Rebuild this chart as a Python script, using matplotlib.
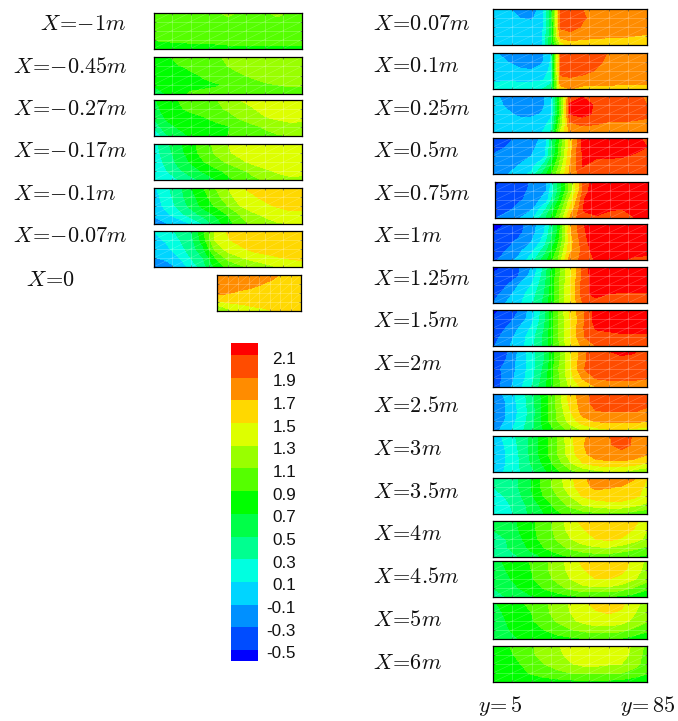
import numpy as np
import matplotlib
matplotlib.use("Agg")
import matplotlib.pyplot as plt
from matplotlib.colors import ListedColormap, BoundaryNorm

plt.rcParams['mathtext.fontset'] = 'cm'

W, H = 678, 721
levels = [-0.5, -0.3, -0.1, 0.1, 0.3, 0.5, 0.7, 0.9, 1.1, 1.3, 1.5, 1.7, 1.9, 2.1]
band_colors = ['#0000ff', '#004cff', '#0090ff', '#00d5ff', '#00ffe0', '#00ff90', '#00ff48', '#00ff00',
               '#55ff00', '#99ff00', '#ddff00', '#ffd800', '#ff8c00', '#ff4c00', '#ff0000']
tick_labels = ['2.1', '1.9', '1.7', '1.5', '1.3', '1.1', '0.9', '0.7', '0.5', '0.3', '0.1', '-0.1', '-0.3', '-0.5']

x_even = np.linspace(0, 1, 13)
x_fine = [0, .08, .17, .25, .32, .375, .4375, .5, .58, .67, .75, .875, 1]
y_rows = [1, .75, .5, .25, 0]

xm1 = [[1.0,1.02,1.03,1.04,1.05,1.07,1.15,1.08,1.06,1.08,1.15,1.08,1.05],
       [1.0,1.0,1.02,1.02,1.03,1.04,1.05,1.05,1.05,1.05,1.05,1.05,1.03],
       [1.0,1.0,1.0,1.0,1.0,1.0,1.0,1.0,1.0,1.0,1.0,1.0,1.0],
       [.92,.95,.96,.97,.98,.98,.98,.98,.98,.98,.98,.98,.98],
       [.75,.75,.78,.8,.82,.82,.85,.85,.85,.85,.85,.85,.85]]
xm045 = [[.85,.85,1.0,1.03,1.05,1.08,1.12,1.17,1.2,1.2,1.22,1.22,1.2],
         [.8,.82,.88,.95,1.02,1.06,1.1,1.15,1.2,1.22,1.22,1.22,1.2],
         [.75,.78,.82,.85,.92,.98,1.03,1.08,1.13,1.2,1.22,1.22,1.2],
         [.72,.78,.82,.85,.86,.88,.92,.98,1.03,1.07,1.1,1.12,1.12],
         [.55,.7,.85,.92,.94,.95,.96,.98,1.0,1.02,1.03,1.03,1.0]]
xm027 = [[.65,.85,.9,1.0,1.04,1.08,1.2,1.3,1.38,1.42,1.42,1.42,1.4],
         [.6,.8,.88,.93,1.0,1.06,1.12,1.2,1.28,1.38,1.42,1.42,1.4],
         [.5,.72,.8,.85,.88,.95,1.03,1.12,1.2,1.28,1.33,1.37,1.36],
         [.35,.62,.72,.78,.8,.84,.88,.97,1.05,1.12,1.18,1.22,1.22],
         [.05,.45,.6,.72,.8,.85,.9,.95,1.0,1.05,1.08,1.1,1.1]]
xm017 = [[.2,.45,.65,.82,1.0,1.15,1.3,1.38,1.42,1.45,1.45,1.45,1.42],
         [.2,.4,.6,.8,.98,1.12,1.27,1.36,1.42,1.45,1.45,1.45,1.42],
         [.15,.35,.55,.72,.88,1.02,1.13,1.25,1.35,1.42,1.44,1.45,1.42],
         [.12,.28,.45,.6,.72,.84,.95,1.05,1.15,1.25,1.33,1.37,1.36],
         [.1,.2,.3,.42,.55,.68,.85,.95,1.05,1.12,1.2,1.25,1.25]]
xm01 = [[.05,.25,.42,.68,.88,1.1,1.3,1.48,1.55,1.6,1.62,1.62,1.6],
        [0,.2,.4,.62,.82,1.02,1.22,1.4,1.47,1.55,1.62,1.65,1.62],
        [-.02,.15,.35,.55,.75,.92,1.1,1.3,1.4,1.45,1.52,1.58,1.58],
        [-.08,.05,.2,.38,.55,.72,.9,1.1,1.25,1.33,1.38,1.42,1.42],
        [-.25,-.12,-.05,.1,.3,.55,.8,1.02,1.15,1.22,1.28,1.3,1.3]]
xm007 = [[.1,.2,.35,.45,.85,1.35,1.52,1.6,1.65,1.65,1.65,1.65,1.65],
         [.05,.12,.28,.42,.8,1.32,1.48,1.58,1.62,1.65,1.65,1.65,1.65],
         [-.05,.05,.2,.38,.65,1.15,1.38,1.45,1.55,1.6,1.62,1.62,1.62],
         [-.12,-.05,.08,.3,.5,.9,1.15,1.28,1.37,1.42,1.48,1.52,1.55],
         [-.35,-.25,-.05,.15,.4,.75,.95,1.05,1.15,1.22,1.3,1.35,1.38]]
x0 = [[1.85,1.85,1.85,1.85,1.85,1.85,1.82,1.78,1.74,1.69,1.66,1.65,1.64],
      [1.82,1.82,1.82,1.8,1.78,1.76,1.72,1.68,1.66,1.64,1.63,1.62,1.62],
      [1.75,1.73,1.7,1.67,1.65,1.62,1.6,1.58,1.58,1.58,1.58,1.58,1.58],
      [1.45,1.5,1.53,1.54,1.55,1.56,1.56,1.56,1.56,1.56,1.56,1.56,1.56],
      [1.05,1.15,1.28,1.36,1.4,1.44,1.46,1.48,1.5,1.52,1.54,1.55,1.55]]
xp007 = [[-.02,-.05,-.2,-.22,0,.6,1.95,2.02,1.9,1.85,1.83,1.82,1.8],
         [-.02,-.03,-.1,-.13,.02,.6,1.95,2.02,1.92,1.85,1.83,1.82,1.8],
         [0,0,0,-.02,.05,.55,1.92,2.0,1.88,1.82,1.8,1.78,1.78],
         [0,0,0,.02,.08,.6,1.8,1.8,1.75,1.73,1.72,1.71,1.68],
         [0,0,.02,.05,.1,.65,1.3,1.62,1.62,1.62,1.62,1.62,1.6]]
xp01 = [[-.05,-.18,-.25,-.25,-.15,.1,1.95,2.05,2.05,2.03,1.88,1.83,1.8],
        [-.02,-.08,-.2,-.22,-.12,.12,1.95,2.05,2.05,1.95,1.85,1.82,1.8],
        [0,0,-.05,-.08,-.02,.15,1.95,2.02,1.98,1.88,1.82,1.8,1.78],
        [.05,.08,.05,.05,.08,.2,1.85,1.85,1.8,1.78,1.77,1.75,1.75],
        [.2,.22,.25,.25,.3,.4,1.6,1.7,1.65,1.65,1.65,1.65,1.65]]
xp025 = [[-.05,-.15,-.22,-.22,-.15,.02,.95,2.0,2.08,2.0,1.98,1.96,1.88],
         [-.02,-.12,-.22,-.22,-.15,.02,.95,2.12,2.25,2.05,2.0,2.0,1.9],
         [0,-.05,-.15,-.15,-.08,.05,1.0,2.1,2.18,2.05,2.0,2.0,1.95],
         [0,0,0,0,.02,.15,1.1,1.88,1.95,1.92,1.88,1.88,1.85],
         [.02,.02,.02,.04,.1,.3,1.3,1.78,1.8,1.8,1.78,1.75,1.72]]
xp05 = [[-.42,-.38,-.25,-.18,-.05,.75,1.55,2.15,2.2,2.2,2.2,2.15,2.05],
        [-.38,-.3,-.2,-.15,0,.8,1.6,2.15,2.25,2.25,2.2,2.15,2.1],
        [-.28,-.2,-.15,-.1,.05,.85,1.65,2.12,2.15,2.13,2.12,2.08,2.03],
        [-.2,-.15,-.1,0,.35,1.0,1.7,2.12,2.0,2.02,2.0,2.0,2.0],
        [-.18,-.12,-.02,.15,.6,1.15,1.75,2.0,1.95,1.95,1.95,1.92,1.92]]
xp075 = [[-.55,-.45,-.35,-.28,-.12,.55,1.25,2.0,2.25,2.3,2.3,2.3,2.3],
         [-.45,-.42,-.35,-.25,-.1,.55,1.25,2.0,2.28,2.3,2.3,2.3,2.3],
         [-.42,-.4,-.32,-.2,0,.7,1.45,2.1,2.2,2.25,2.25,2.25,2.25],
         [-.4,-.35,-.2,-.1,.3,.9,1.6,2.12,2.15,2.12,2.1,2.18,2.2],
         [-.32,-.2,-.1,.1,.5,1.05,1.8,2.05,2.08,2.02,2.0,2.1,2.15]]
xp1 = [[-.6,-.5,-.38,-.2,.05,.65,1.65,2.08,2.25,2.3,2.3,2.3,2.3],
       [-.5,-.42,-.35,-.18,.1,.7,1.65,2.05,2.25,2.3,2.3,2.3,2.3],
       [-.42,-.38,-.25,-.1,.2,.8,1.6,2.0,2.25,2.3,2.3,2.3,2.3],
       [-.4,-.3,-.15,.05,.4,.95,1.65,1.95,2.2,2.28,2.3,2.25,2.2],
       [-.35,-.2,-.05,.2,.6,1.05,1.8,1.95,2.12,2.15,2.12,2.02,2.0]]
xp125 = [[-.6,-.45,-.32,-.1,.35,1.0,1.45,1.95,2.3,2.3,2.3,2.3,2.3],
         [-.45,-.4,-.3,-.02,.4,1.0,1.45,1.95,2.25,2.3,2.3,2.3,2.3],
         [-.42,-.33,-.1,.1,.45,1.0,1.5,1.98,2.2,2.25,2.3,2.3,2.3],
         [-.4,-.2,0,.2,.5,1.02,1.5,2.0,2.2,2.1,2.05,2.05,2.05],
         [-.3,-.1,.05,.25,.55,1.0,1.5,1.9,1.95,1.95,1.95,1.95,1.92]]
xp15 = [[-.6,-.42,-.3,-.02,.45,1.05,1.55,1.85,2.2,2.3,2.3,2.3,2.3],
        [-.45,-.38,-.25,.02,.45,1.05,1.5,1.85,2.2,2.3,2.3,2.3,2.3],
        [-.4,-.3,-.1,.12,.5,1.05,1.5,1.88,2.12,2.15,2.18,2.2,2.2],
        [-.38,-.22,-.02,.2,.55,1.05,1.5,1.88,2.02,2.02,2.05,2.05,2.05],
        [-.32,-.15,0,.22,.55,1.02,1.45,1.75,1.9,1.92,1.92,1.92,1.92]]
xp2 = [[-.42,-.35,-.08,.2,.5,1.0,1.45,1.85,2.02,2.1,2.15,2.12,2.02],
       [-.35,-.3,-.05,.2,.5,1.0,1.45,1.85,2.02,2.05,2.05,2.05,2.03],
       [-.38,-.25,-.05,.2,.55,1.05,1.45,1.88,2.02,2.03,2.03,2.03,2.02],
       [-.4,-.25,-.02,.22,.6,1.02,1.42,1.72,1.92,1.95,1.95,1.95,1.92],
       [-.42,-.2,.02,.3,.65,1.0,1.33,1.55,1.7,1.75,1.75,1.75,1.72]]
xp25 = [[-.25,-.05,.15,.42,.8,1.15,1.6,1.8,2.0,2.05,2.05,2.05,1.98],
        [-.25,-.1,.15,.4,.8,1.15,1.55,1.8,1.98,2.05,2.05,2.05,1.95],
        [-.32,-.1,.12,.38,.78,1.12,1.48,1.78,1.88,1.9,1.9,1.9,1.85],
        [-.32,-.08,.15,.4,.8,1.1,1.38,1.62,1.72,1.75,1.75,1.75,1.72],
        [-.2,0,.2,.45,.72,.95,1.15,1.32,1.42,1.48,1.48,1.45,1.38]]
xp3 = [[0,.15,.35,.55,.82,1.1,1.45,1.65,1.82,1.88,2.0,1.87,1.72],
       [-.02,.12,.32,.55,.82,1.1,1.42,1.68,1.85,1.88,1.95,1.88,1.75],
       [-.05,.1,.3,.55,.82,1.1,1.4,1.65,1.8,1.85,1.85,1.83,1.72],
       [-.05,.1,.28,.52,.75,1.0,1.28,1.5,1.62,1.65,1.65,1.6,1.5],
       [0,.12,.28,.45,.65,.85,1.02,1.15,1.22,1.28,1.28,1.2,1.12]]
xp35 = [[.38,.42,.5,.7,1.0,1.2,1.45,1.65,1.82,1.85,1.88,1.72,1.5],
        [.3,.38,.5,.7,.98,1.18,1.42,1.62,1.75,1.72,1.68,1.62,1.45],
        [.2,.32,.45,.68,.92,1.1,1.3,1.52,1.58,1.6,1.6,1.55,1.42],
        [.12,.25,.4,.58,.78,.98,1.15,1.3,1.4,1.43,1.43,1.35,1.25],
        [.1,.2,.38,.55,.7,.85,.95,1.0,1.03,1.05,1.05,1.0,.95]]
xp4 = [[.52,.58,.72,.85,1.0,1.15,1.42,1.55,1.62,1.65,1.65,1.58,1.32],
       [.5,.55,.7,.85,1.0,1.15,1.38,1.48,1.6,1.65,1.62,1.48,1.3],
       [.42,.5,.65,.82,.98,1.12,1.28,1.42,1.5,1.55,1.48,1.38,1.25],
       [.4,.48,.6,.75,.9,1.02,1.13,1.22,1.27,1.28,1.22,1.15,1.05],
       [.3,.38,.5,.62,.72,.82,.9,.95,.98,.98,.95,.9,.85]]
xp45 = [[.65,.72,.82,.92,1.05,1.2,1.38,1.55,1.62,1.65,1.6,1.45,1.25],
        [.62,.7,.8,.9,1.05,1.2,1.35,1.48,1.6,1.62,1.55,1.4,1.22],
        [.55,.65,.78,.88,1.02,1.15,1.3,1.42,1.5,1.5,1.45,1.32,1.18],
        [.5,.6,.7,.8,.92,1.02,1.15,1.25,1.27,1.27,1.2,1.08,.95],
        [.4,.5,.58,.68,.75,.8,.85,.88,.88,.88,.85,.8,.72]]
xp5 = [[.68,.75,.85,.98,1.05,1.2,1.32,1.45,1.58,1.62,1.55,1.38,1.2],
       [.65,.72,.82,.9,1.05,1.18,1.3,1.42,1.48,1.52,1.48,1.32,1.18],
       [.62,.7,.8,.88,1.0,1.12,1.25,1.35,1.42,1.42,1.38,1.25,1.12],
       [.62,.68,.75,.82,.9,1.0,1.08,1.15,1.2,1.2,1.15,1.05,.95],
       [.6,.65,.7,.75,.78,.82,.85,.88,.9,.9,.88,.8,.72]]
xp6 = [[.8,.85,1.02,1.08,1.18,1.28,1.38,1.42,1.44,1.45,1.42,1.25,1.05],
       [.78,.82,.95,1.08,1.15,1.25,1.35,1.4,1.42,1.42,1.4,1.22,1.02],
       [.76,.8,.88,1.0,1.1,1.18,1.28,1.35,1.36,1.32,1.3,1.18,1.0],
       [.74,.78,.84,.92,1.0,1.05,1.1,1.13,1.13,1.13,1.1,1.02,.92],
       [.72,.74,.76,.78,.8,.82,.84,.84,.84,.84,.82,.78,.72]]

left_labels = ['$X\\!=\\!{-}1m$', '$X\\!=\\!{-}0.45m$', '$X\\!=\\!{-}0.27m$', '$X\\!=\\!{-}0.17m$',
               '$X\\!=\\!{-}0.1m$', '$X\\!=\\!{-}0.07m$', '$X\\!=\\!0$']
left_data = [xm1, xm045, xm027, xm017, xm01, xm007, x0]
left_boxes = [(153.5, 12.5, 302, 48.5), (153.5, 57, 302, 94), (153.5, 100, 302, 136), (153.5, 144, 302, 180),
              (153.5, 188, 302, 224), (153.5, 231, 302, 267), (217, 275, 301, 311)]
left_text = [(40, 24), (13, 67), (13, 109), (13, 151), (13, 194), (13, 236), (26, 280)]

right_labels = ['0.07', '0.1', '0.25', '0.5', '0.75', '1', '1.25', '1.5', '2', '2.5', '3', '3.5', '4', '4.5', '5', '6']
right_data = [xp007, xp01, xp025, xp05, xp075, xp1, xp125, xp15, xp2, xp25, xp3, xp35, xp4, xp45, xp5, xp6]
right_tops = [9, 53, 96, 138, 182, 224, 267, 310, 351, 394, 436, 478, 521, 561, 603, 646]
right_text_y = [24, 66, 109, 151, 194, 236, 279, 321, 364, 406, 449, 492, 534, 577, 620, 663]

fig = plt.figure(figsize=(W / 100, H / 100), dpi=100)
cmap = ListedColormap(band_colors[1:-1])
cmap.set_under(band_colors[0])
cmap.set_over(band_colors[-1])
norm = BoundaryNorm(levels, cmap.N)


def pixel_axes(x0_, y0_, x1_, y1_):
    return fig.add_axes([x0_ / W, 1 - y1_ / H, (x1_ - x0_) / W, (y1_ - y0_) / H])


def panel(box, values, xs):
    ax = pixel_axes(*box)
    ax.contourf(xs, y_rows, np.array(values), levels=levels, cmap=cmap, norm=norm, extend='both', antialiased=False)
    vx = np.linspace(0, 1, 9)
    hy = np.linspace(0, 1, 5)
    for v in vx:
        ax.plot([v, v], [0, 1], color='white', lw=0.5, alpha=0.3)
    for h in hy:
        ax.plot([0, 1], [h, h], color='white', lw=0.5, alpha=0.3)
    for i in range(8):
        for j in range(4):
            ax.plot([vx[i], vx[i + 1]], [hy[j], hy[j + 1]], color='white', lw=0.4, alpha=0.25)
    ax.set_xlim(0, 1)
    ax.set_ylim(0, 1)
    ax.set_xticks(vx)
    ax.set_yticks(hy)
    ax.tick_params(direction='in', length=1.2, width=0.4, top=True, right=True, labelbottom=False, labelleft=False)
    for s in ax.spines.values():
        s.set_linewidth(0.9)
    return ax


for box, vals in zip(left_boxes, left_data):
    panel(box, vals, x_even)
for i, (top, vals) in enumerate(zip(right_tops, right_data)):
    x_left, x_right = (495, 648) if right_labels[i] == '0.75' else (493, 647)
    panel((x_left, top, x_right, top + 36), vals, x_fine if i < 3 else x_even)

for s, (px, py) in zip(left_labels, left_text):
    fig.text(px / W, 1 - py / H, s, fontsize=16, va='center', ha='left', color='#111111')
for s, py in zip(right_labels, right_text_y):
    fig.text(373 / W, 1 - py / H, '$X\\!=\\!' + s + 'm$', fontsize=16, va='center', ha='left', color='#111111')
fig.text(478 / W, 1 - 706 / H, '$y\\!=5$', fontsize=16, va='center', ha='left', color='#111111')
fig.text(620 / W, 1 - 706 / H, '$y\\!=85$', fontsize=16, va='center', ha='left', color='#111111')

# colour bar
cax = pixel_axes(231, 343.3, 258, 660.7)
step = 2.6 / 295
vmax, vmin = 2.1 + 11.7 * step, -0.5 - 10.7 * step
edges = [vmin] + levels + [vmax]
cax.pcolormesh([0, 1], edges, np.array(
    [[(edges[i] + edges[i + 1]) / 2] for i in range(len(edges) - 1)]),
    cmap=cmap, norm=norm, shading='flat')
cax.set_ylim(vmin, vmax)
cax.axis('off')
for lab in tick_labels:
    val = float(lab)
    py = 355 + (2.1 - val) / step + 4
    fig.text(296 / W, 1 - py / H, lab, family='Liberation Sans', fontsize=12.3, va='center', ha='right', color='#111111')

fig.savefig('out.png', dpi=100, facecolor='white')
